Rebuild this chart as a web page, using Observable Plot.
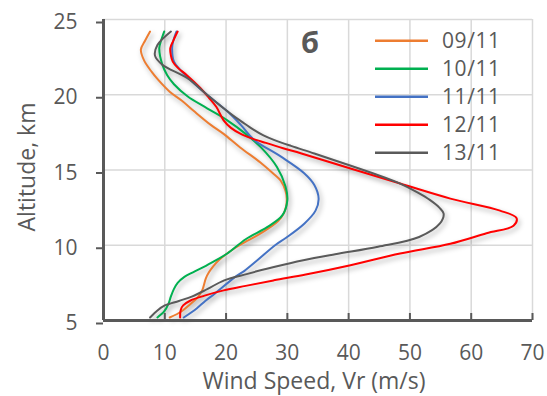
<!DOCTYPE html>
<html><head><meta charset="utf-8">
<script src="https://cdn.jsdelivr.net/npm/d3@7"></script>
<script src="https://cdn.jsdelivr.net/npm/@observablehq/plot@0.6"></script>
<style>
body{margin:0;background:#fff}
#chart{position:relative;width:547px;height:396px}
</style>
</head><body><div id="chart"></div>
<script>
const seriesNames = ["09/11","10/11","11/11","12/11","13/11"];
const seriesColors = ["#ED7D31","#00B050","#4472C4","#FF0000","#5A5A5A"];
const xTicks = [0,10,20,30,40,50,60,70];
const yTicks = [5,10,15,20,25];
const panelLabel = "б";
const xLabel = "Wind Speed, Vr (m/s)";
const yLabel = "Altitude, km";

const alt0911 = [24.2,23.6,23.0,22.3,21.5,21.0,20.2,19.6,18.9,18.0,17.4,16.5,15.5,14.8,14.3,13.6,13.1,12.6,12.1,11.6,11.2,10.7,10.3,9.8,9.4,9.0,8.6,8.2,7.8,7.0,6.5,6.1,5.6,5.2];
const speed0911 = [7.6,6.8,6.1,6.6,7.9,8.9,10.8,12.8,14.8,17.5,19.6,22.3,25.6,27.6,28.9,29.7,29.9,29.8,29.4,28.5,27.2,25.3,23.5,21.4,20.0,18.8,17.9,17.2,16.7,16.1,15.3,14.2,12.7,10.8];

const alt1011 = [24.2,23.6,23.1,22.0,21.3,20.7,19.9,19.1,18.3,17.4,16.5,15.2,13.9,13.0,12.0,11.2,10.4,9.45,9.0,8.55,8.2,7.9,7.5,7.1,6.6,6.1,5.6,5.2];
const speed1011 = [9.9,9.4,9.1,9.6,10.4,11.5,13.7,16.9,20.2,23.2,25.7,28.3,29.7,30.0,29.2,26.7,23.2,20.2,18.3,16.3,14.6,13.2,12.1,11.5,11.0,10.6,9.9,8.8];

const alt1111 = [24.2,23.6,23.1,22.2,21.1,20.0,18.9,18.0,17.0,15.9,14.8,14.0,13.1,12.3,11.45,10.5,10.0,9.0,8.3,7.9,6.8,6.3,5.8,5.2];
const speed1111 = [11.9,11.4,11.2,11.5,13.9,16.9,20.2,22.4,24.6,28.9,32.7,34.4,35.1,34.6,32.8,29.8,28.0,25.1,23.0,21.5,18.2,16.6,15.2,13.1];

const alt1211 = [24.2,23.6,23.1,22.6,22.2,21.8,21.3,20.45,19.8,19.2,18.3,17.8,17.4,17.1,16.8,16.45,16.1,15.1,14.1,13.1,12.3,11.8,11.3,10.8,10.1,9.45,8.67,8.05,7.67,7.3,7.0,6.65,6.33,6.0,5.7,5.2];
const speed1211 = [12.1,11.4,10.9,11.0,11.3,12.1,13.6,15.8,17.2,18.4,19.6,20.8,22.4,24.2,26.5,29.3,32.3,40.3,48.4,56.6,64.7,67.4,66.9,62.5,56.6,48.4,40.3,33.0,27.8,23.2,19.6,16.5,14.2,13.0,12.6,12.5];

const alt1311 = [24.2,23.3,22.6,22.0,21.1,20.0,19.1,18.6,18.2,17.7,17.3,17.0,16.6,16.1,15.4,14.7,14.1,13.5,13.0,12.5,12.1,11.45,10.55,9.9,9.4,9.0,8.55,8.1,7.67,7.1,6.6,6.3,6.0,5.67,5.2];
const speed1311 = [11.0,8.8,8.4,9.6,13.7,16.9,19.6,21.2,22.6,24.4,26.1,27.8,30.6,34.4,39.5,44.5,48.4,51.3,53.3,54.8,55.5,54.9,51.5,44.8,37.8,32.6,27.8,23.5,19.7,17.0,14.5,12.3,10.0,8.8,7.6];

const altitudes = [alt0911, alt1011, alt1111, alt1211, alt1311];
const speeds = [speed0911, speed1011, speed1111, speed1211, speed1311];

const data = [];
seriesNames.forEach((name, i) => {
  const rows = altitudes[i].map((a, j) => ({series: name, alt: a, speed: speeds[i][j]}));
  rows.sort((p, q) => p.alt - q.alt);
  data.push(...rows);
});

const axisColor = "#595959";
const gridColor = "#D9D9D9";

const plot = Plot.plot({
  width: 547,
  height: 396,
  marginLeft: 103,
  marginRight: 15,
  marginTop: 19,
  marginBottom: 76,
  style: {fontFamily: "'Open Sans', sans-serif", fontSize: "21px", color: axisColor, background: "#fff", overflow: "visible"},
  x: {domain: [0, 70]},
  y: {domain: [5, 25]},
  color: {domain: seriesNames, range: seriesColors},
  marks: [
    Plot.gridX(xTicks, {stroke: gridColor, strokeOpacity: 1, strokeWidth: 1.5}),
    Plot.gridY(yTicks, {stroke: gridColor, strokeOpacity: 1, strokeWidth: 1.5}),
    Plot.line(data, {x: "speed", y: "alt", z: "series", stroke: "series", curve: "catmull-rom", strokeWidth: 2}),
    Plot.ruleX([0], {stroke: axisColor, strokeWidth: 3}),
    Plot.ruleY([5], {stroke: axisColor, strokeWidth: 3}),
    Plot.axisX(xTicks, {anchor: "bottom", tickSize: -7, tickPadding: 32, label: null, fontSize: 21, stroke: axisColor, strokeWidth: 2}),
    Plot.axisY(yTicks, {anchor: "left", tickSize: 7, tickPadding: 19, dy: 3, label: null, fontSize: 21, stroke: axisColor, strokeWidth: 2}),
    Plot.text([xLabel], {frameAnchor: "bottom", lineAnchor: "middle", textAnchor: "middle", dy: 61, dx: -4, fontSize: 23, fill: axisColor}),
    Plot.text([yLabel], {frameAnchor: "left", textAnchor: "middle", lineAnchor: "middle", dx: -76, dy: -3, rotate: -90, fontSize: 23, fill: axisColor})
  ]
});

document.getElementById("chart").appendChild(plot);

const svg = d3.select(plot);
svg.selectAll('g[aria-label="line"]').style("filter", "drop-shadow(2px 3px 2.5px rgba(0,0,0,0.32))");

// panel label
svg.append("text").attr("x", 301).attr("y", 53).attr("font-size", 29).attr("font-weight", "bold")
  .attr("text-anchor", "start").attr("fill", axisColor).attr("font-family", "'Open Sans', sans-serif").text(panelLabel);

// legend
const lg = svg.append("g").attr("font-family", "'Open Sans', sans-serif").attr("font-size", 21).attr("text-anchor", "start");
seriesNames.forEach((name, i) => {
  const y = 40.7 + i * 28;
  lg.append("line").attr("x1", 375).attr("x2", 428).attr("y1", y).attr("y2", y)
    .attr("stroke", seriesColors[i]).attr("stroke-width", 2.5);
  lg.append("text").attr("x", 442).attr("y", y + 7.5).attr("fill", axisColor)
    .attr("letter-spacing", 0.6).text(name);
});
</script>
</body></html>
